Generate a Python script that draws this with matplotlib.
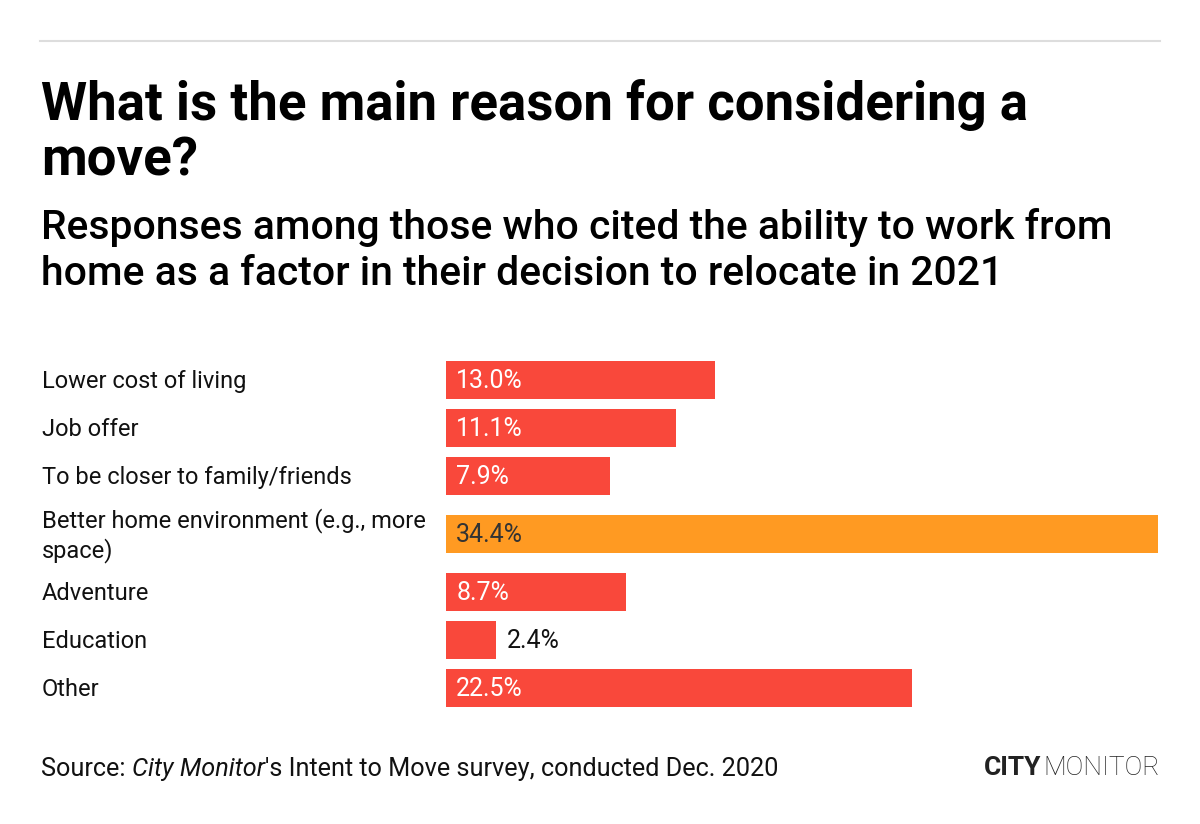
import matplotlib
matplotlib.use('Agg')
import matplotlib.pyplot as plt

# data
reasons = ['Lower cost of living', 'Job offer', 'To be closer to family/friends',
           'Better home environment (e.g., more\nspace)', 'Adventure', 'Education', 'Other']
shares = [13.0, 11.1, 7.9, 34.4, 8.7, 2.4, 22.5]
highlight = 'Better home environment (e.g., more\nspace)'

RED = '#f9483b'
ORANGE = '#ff9a22'
FONT = 'Roboto'

W, H = 1200, 824
fig = plt.figure(figsize=(W / 100, H / 100), dpi=100)

def fx(x):
    return x / W

def fy(y):
    return 1 - y / H

# top rule
fig.add_artist(plt.Line2D([fx(40), fx(1160)], [fy(41), fy(41)], color='#dddddd', lw=1.5))

# va='baseline' on multiline text sits on the last line
fig.text(fx(41), fy(175), 'What is the main reason for considering a\nmove?', fontsize=38,
         fontweight='bold', family=FONT, va='baseline', linespacing=1.1)
fig.text(fx(41), fy(285), 'Responses among those who cited the ability to work from\n'
         'home as a factor in their decision to relocate in 2021', fontsize=29.4,
         fontweight='medium', family=FONT, va='baseline', linespacing=1.28)

# bar rows, taller row for wrapped labels
pitch = 48
extra = 10
ys = []
y = 0
for i, r in enumerate(reasons):
    n = r.count('\n')
    if i > 0:
        y += pitch + (extra if n or reasons[i - 1].count('\n') else 0)
    ys.append(y)

ax = fig.add_axes([fx(446), fy(712), fx(1158) - fx(446), (712 - 356) / H])
ax.set_xlim(0, max(shares))
ax.set_ylim(ys[-1] + 24, ys[0] - 24)
ax.axis('off')

colors = [ORANGE if r == highlight else RED for r in reasons]
ax.barh(ys, shares, height=38.5, color=colors, edgecolor='none')

for r, v, yy, c in zip(reasons, shares, ys, colors):
    ax.text(-(446 - 42) / 712 * max(shares), yy + 1.5, r, fontsize=17, family=FONT,
            va='center', ha='left', color='#111111', linespacing=1.25, clip_on=False)
    if v < 4:
        ax.text(v + 0.55, yy + 1, f'{v:.1f}%', fontsize=18, family=FONT,
                va='center', color='#111111')
    else:
        ax.text(0.5, yy + 1, f'{v:.1f}%', fontsize=18, family=FONT, va='center',
                color='#333333' if c == ORANGE else 'white')

# footer
r = fig.canvas.get_renderer()
parts = [('Source: ', 'normal'), ('City Monitor', 'italic'),
         ("'s Intent to Move survey, conducted Dec. 2020", 'normal')]
x = fx(41)
for s, st in parts:
    t = fig.text(x, fy(776), s, fontsize=18.2, family=FONT, style=st, va='baseline',
                 color='#111111')
    x += t.get_window_extent(r).width / W

t2 = fig.text(fx(1160), fy(775), 'MONITOR', fontsize=19, family=FONT, fontweight='light',
              ha='right', va='baseline', color='#222222')
w2 = t2.get_window_extent(r).width
fig.text(fx(1160) - w2 / W - fx(2), fy(775), 'CITY', fontsize=19, family=FONT,
         fontweight='bold', ha='right', va='baseline', color='#222222')

fig.savefig('out.png', dpi=100, facecolor='white')
